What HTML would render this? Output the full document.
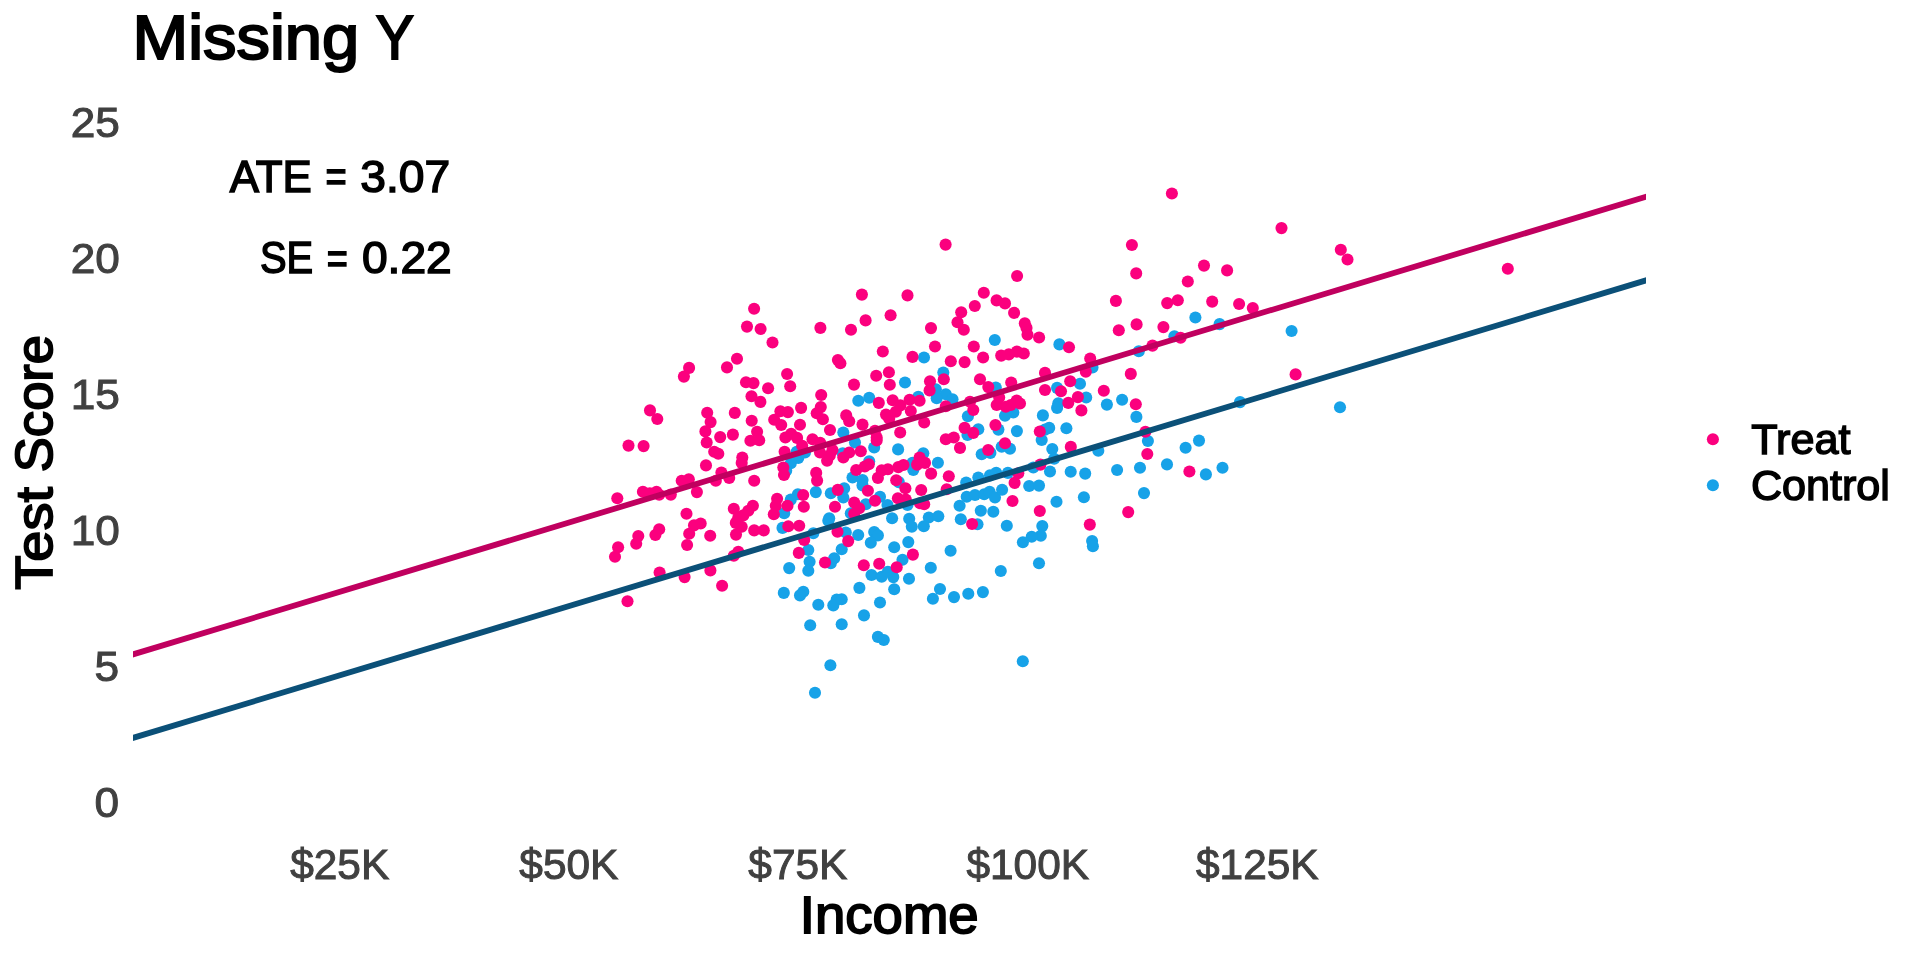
<!DOCTYPE html>
<html><head><meta charset="utf-8"><title>Missing Y</title>
<style>
html,body{margin:0;padding:0;background:#fff;}
body{width:1920px;height:960px;overflow:hidden;position:relative;font-family:"Liberation Sans",sans-serif;}
svg{position:absolute;left:0;top:0;will-change:transform;}
text{font-family:"Liberation Sans",sans-serif;}
</style></head><body>
<svg width="1920" height="960" viewBox="0 0 1920 960">
<rect width="1920" height="960" fill="#fff"/>
<g fill="#17a2e8">
<circle cx="796.7" cy="451.7" r="6.05"/>
<circle cx="805.0" cy="452.5" r="6.05"/>
<circle cx="798.3" cy="457.9" r="6.05"/>
<circle cx="790.8" cy="463.3" r="6.05"/>
<circle cx="786.2" cy="470.8" r="6.05"/>
<circle cx="815.8" cy="492.1" r="6.05"/>
<circle cx="830.8" cy="493.3" r="6.05"/>
<circle cx="797.9" cy="494.2" r="6.05"/>
<circle cx="790.8" cy="499.6" r="6.05"/>
<circle cx="784.2" cy="513.3" r="6.05"/>
<circle cx="829.2" cy="518.3" r="6.05"/>
<circle cx="782.5" cy="527.9" r="6.05"/>
<circle cx="813.3" cy="533.3" r="6.05"/>
<circle cx="828.3" cy="520.8" r="6.05"/>
<circle cx="808.3" cy="550.0" r="6.05"/>
<circle cx="809.6" cy="561.7" r="6.05"/>
<circle cx="808.3" cy="570.8" r="6.05"/>
<circle cx="789.2" cy="568.1" r="6.05"/>
<circle cx="830.8" cy="563.3" r="6.05"/>
<circle cx="834.2" cy="558.3" r="6.05"/>
<circle cx="783.8" cy="592.9" r="6.05"/>
<circle cx="803.3" cy="591.7" r="6.05"/>
<circle cx="800.0" cy="595.4" r="6.05"/>
<circle cx="836.7" cy="599.6" r="6.05"/>
<circle cx="818.3" cy="604.8" r="6.05"/>
<circle cx="833.3" cy="605.4" r="6.05"/>
<circle cx="810.2" cy="625.2" r="6.05"/>
<circle cx="830.4" cy="665.2" r="6.05"/>
<circle cx="905.0" cy="382.5" r="6.05"/>
<circle cx="943.3" cy="372.5" r="6.05"/>
<circle cx="935.8" cy="389.2" r="6.05"/>
<circle cx="945.8" cy="394.2" r="6.05"/>
<circle cx="936.7" cy="398.3" r="6.05"/>
<circle cx="952.5" cy="399.2" r="6.05"/>
<circle cx="995.8" cy="387.5" r="6.05"/>
<circle cx="858.3" cy="400.8" r="6.05"/>
<circle cx="869.2" cy="397.7" r="6.05"/>
<circle cx="918.3" cy="396.7" r="6.05"/>
<circle cx="967.9" cy="416.2" r="6.05"/>
<circle cx="843.3" cy="432.5" r="6.05"/>
<circle cx="978.3" cy="429.2" r="6.05"/>
<circle cx="967.5" cy="435.0" r="6.05"/>
<circle cx="998.4" cy="429.6" r="6.05"/>
<circle cx="855.0" cy="442.5" r="6.05"/>
<circle cx="874.2" cy="447.5" r="6.05"/>
<circle cx="898.1" cy="449.4" r="6.05"/>
<circle cx="869.2" cy="461.2" r="6.05"/>
<circle cx="852.5" cy="477.5" r="6.05"/>
<circle cx="862.5" cy="480.0" r="6.05"/>
<circle cx="862.5" cy="485.4" r="6.05"/>
<circle cx="898.8" cy="482.1" r="6.05"/>
<circle cx="913.3" cy="470.0" r="6.05"/>
<circle cx="912.5" cy="462.9" r="6.05"/>
<circle cx="923.3" cy="453.3" r="6.05"/>
<circle cx="937.9" cy="462.7" r="6.05"/>
<circle cx="981.7" cy="454.2" r="6.05"/>
<circle cx="990.4" cy="452.9" r="6.05"/>
<circle cx="966.2" cy="482.5" r="6.05"/>
<circle cx="978.3" cy="477.5" r="6.05"/>
<circle cx="990.0" cy="475.4" r="6.05"/>
<circle cx="996.2" cy="472.9" r="6.05"/>
<circle cx="966.7" cy="496.7" r="6.05"/>
<circle cx="975.0" cy="495.0" r="6.05"/>
<circle cx="984.2" cy="494.2" r="6.05"/>
<circle cx="989.6" cy="491.7" r="6.05"/>
<circle cx="995.0" cy="497.5" r="6.05"/>
<circle cx="959.6" cy="505.8" r="6.05"/>
<circle cx="980.8" cy="510.8" r="6.05"/>
<circle cx="993.3" cy="511.7" r="6.05"/>
<circle cx="960.8" cy="519.2" r="6.05"/>
<circle cx="928.8" cy="517.5" r="6.05"/>
<circle cx="938.3" cy="516.2" r="6.05"/>
<circle cx="909.2" cy="518.8" r="6.05"/>
<circle cx="892.1" cy="518.3" r="6.05"/>
<circle cx="844.2" cy="488.3" r="6.05"/>
<circle cx="843.3" cy="497.5" r="6.05"/>
<circle cx="880.0" cy="496.7" r="6.05"/>
<circle cx="865.8" cy="504.2" r="6.05"/>
<circle cx="887.5" cy="505.0" r="6.05"/>
<circle cx="850.8" cy="513.3" r="6.05"/>
<circle cx="907.5" cy="505.0" r="6.05"/>
<circle cx="911.8" cy="526.7" r="6.05"/>
<circle cx="923.8" cy="526.2" r="6.05"/>
<circle cx="977.5" cy="524.2" r="6.05"/>
<circle cx="845.8" cy="532.5" r="6.05"/>
<circle cx="841.7" cy="549.2" r="6.05"/>
<circle cx="858.2" cy="535.0" r="6.05"/>
<circle cx="874.2" cy="532.1" r="6.05"/>
<circle cx="877.9" cy="535.4" r="6.05"/>
<circle cx="870.8" cy="542.7" r="6.05"/>
<circle cx="894.2" cy="547.3" r="6.05"/>
<circle cx="908.3" cy="542.1" r="6.05"/>
<circle cx="902.5" cy="559.8" r="6.05"/>
<circle cx="871.5" cy="575.0" r="6.05"/>
<circle cx="881.7" cy="576.7" r="6.05"/>
<circle cx="893.3" cy="577.1" r="6.05"/>
<circle cx="887.9" cy="571.7" r="6.05"/>
<circle cx="909.0" cy="578.8" r="6.05"/>
<circle cx="930.8" cy="567.8" r="6.05"/>
<circle cx="950.6" cy="550.7" r="6.05"/>
<circle cx="859.4" cy="587.9" r="6.05"/>
<circle cx="894.2" cy="589.2" r="6.05"/>
<circle cx="940.0" cy="589.0" r="6.05"/>
<circle cx="932.9" cy="598.8" r="6.05"/>
<circle cx="954.0" cy="597.1" r="6.05"/>
<circle cx="968.3" cy="593.8" r="6.05"/>
<circle cx="982.9" cy="592.1" r="6.05"/>
<circle cx="841.7" cy="599.2" r="6.05"/>
<circle cx="880.0" cy="602.5" r="6.05"/>
<circle cx="864.0" cy="615.4" r="6.05"/>
<circle cx="841.7" cy="624.2" r="6.05"/>
<circle cx="877.9" cy="636.9" r="6.05"/>
<circle cx="883.8" cy="640.0" r="6.05"/>
<circle cx="1092.5" cy="367.5" r="6.05"/>
<circle cx="1080.0" cy="383.8" r="6.05"/>
<circle cx="1057.1" cy="387.9" r="6.05"/>
<circle cx="1086.2" cy="397.5" r="6.05"/>
<circle cx="1058.3" cy="403.3" r="6.05"/>
<circle cx="1057.1" cy="407.9" r="6.05"/>
<circle cx="1106.9" cy="404.6" r="6.05"/>
<circle cx="1122.1" cy="399.8" r="6.05"/>
<circle cx="1136.4" cy="416.9" r="6.05"/>
<circle cx="1013.3" cy="412.5" r="6.05"/>
<circle cx="1005.0" cy="415.8" r="6.05"/>
<circle cx="1042.9" cy="415.4" r="6.05"/>
<circle cx="1016.9" cy="431.1" r="6.05"/>
<circle cx="1049.2" cy="427.9" r="6.05"/>
<circle cx="1045.0" cy="429.6" r="6.05"/>
<circle cx="1066.4" cy="428.3" r="6.05"/>
<circle cx="1010.0" cy="448.8" r="6.05"/>
<circle cx="1001.7" cy="446.7" r="6.05"/>
<circle cx="1041.7" cy="440.0" r="6.05"/>
<circle cx="1052.3" cy="449.0" r="6.05"/>
<circle cx="1054.2" cy="458.8" r="6.05"/>
<circle cx="1098.3" cy="450.8" r="6.05"/>
<circle cx="1147.9" cy="441.0" r="6.05"/>
<circle cx="1140.0" cy="467.8" r="6.05"/>
<circle cx="1117.1" cy="470.0" r="6.05"/>
<circle cx="1085.2" cy="473.6" r="6.05"/>
<circle cx="1070.7" cy="471.7" r="6.05"/>
<circle cx="1050.0" cy="471.5" r="6.05"/>
<circle cx="1033.3" cy="467.5" r="6.05"/>
<circle cx="1007.9" cy="472.9" r="6.05"/>
<circle cx="1002.1" cy="489.8" r="6.05"/>
<circle cx="1029.2" cy="486.0" r="6.05"/>
<circle cx="1039.0" cy="485.6" r="6.05"/>
<circle cx="1056.5" cy="501.8" r="6.05"/>
<circle cx="1083.9" cy="497.3" r="6.05"/>
<circle cx="1144.0" cy="493.1" r="6.05"/>
<circle cx="1006.8" cy="525.7" r="6.05"/>
<circle cx="1042.3" cy="526.1" r="6.05"/>
<circle cx="1040.8" cy="535.8" r="6.05"/>
<circle cx="1031.7" cy="536.7" r="6.05"/>
<circle cx="1022.9" cy="542.3" r="6.05"/>
<circle cx="1092.1" cy="541.1" r="6.05"/>
<circle cx="1092.9" cy="546.2" r="6.05"/>
<circle cx="1039.0" cy="563.2" r="6.05"/>
<circle cx="1000.8" cy="571.0" r="6.05"/>
<circle cx="815.0" cy="692.8" r="6.05"/>
<circle cx="1022.8" cy="661.2" r="6.05"/>
<circle cx="994.8" cy="340.0" r="6.05"/>
<circle cx="1059.4" cy="344.4" r="6.05"/>
<circle cx="924.0" cy="357.5" r="6.05"/>
<circle cx="1195.4" cy="317.5" r="6.05"/>
<circle cx="1219.6" cy="324.1" r="6.05"/>
<circle cx="1291.6" cy="331.0" r="6.05"/>
<circle cx="1174.4" cy="336.2" r="6.05"/>
<circle cx="1138.8" cy="351.2" r="6.05"/>
<circle cx="1240.0" cy="402.1" r="6.05"/>
<circle cx="1340.0" cy="407.2" r="6.05"/>
<circle cx="1199.0" cy="440.6" r="6.05"/>
<circle cx="1185.6" cy="447.8" r="6.05"/>
<circle cx="1167.0" cy="464.4" r="6.05"/>
<circle cx="1205.9" cy="474.4" r="6.05"/>
<circle cx="1222.5" cy="467.8" r="6.05"/>
<circle cx="842.7" cy="453.2" r="6.05"/>
</g>
<g fill="#fb007e">
<circle cx="754.1" cy="308.8" r="6.05"/>
<circle cx="747.0" cy="326.6" r="6.05"/>
<circle cx="760.6" cy="329.0" r="6.05"/>
<circle cx="820.4" cy="327.9" r="6.05"/>
<circle cx="772.5" cy="342.5" r="6.05"/>
<circle cx="737.0" cy="358.8" r="6.05"/>
<circle cx="727.0" cy="367.4" r="6.05"/>
<circle cx="689.1" cy="367.9" r="6.05"/>
<circle cx="683.9" cy="376.6" r="6.05"/>
<circle cx="787.1" cy="374.0" r="6.05"/>
<circle cx="746.0" cy="382.2" r="6.05"/>
<circle cx="753.5" cy="383.1" r="6.05"/>
<circle cx="768.1" cy="388.2" r="6.05"/>
<circle cx="790.2" cy="386.2" r="6.05"/>
<circle cx="821.2" cy="395.0" r="6.05"/>
<circle cx="751.5" cy="396.2" r="6.05"/>
<circle cx="760.4" cy="401.9" r="6.05"/>
<circle cx="820.8" cy="407.1" r="6.05"/>
<circle cx="816.7" cy="413.3" r="6.05"/>
<circle cx="822.9" cy="419.3" r="6.05"/>
<circle cx="801.1" cy="407.9" r="6.05"/>
<circle cx="780.4" cy="411.2" r="6.05"/>
<circle cx="787.9" cy="412.1" r="6.05"/>
<circle cx="774.2" cy="419.8" r="6.05"/>
<circle cx="781.2" cy="425.0" r="6.05"/>
<circle cx="800.0" cy="424.8" r="6.05"/>
<circle cx="830.0" cy="430.0" r="6.05"/>
<circle cx="707.2" cy="412.8" r="6.05"/>
<circle cx="710.6" cy="422.1" r="6.05"/>
<circle cx="705.4" cy="431.4" r="6.05"/>
<circle cx="734.8" cy="412.9" r="6.05"/>
<circle cx="751.7" cy="420.8" r="6.05"/>
<circle cx="757.1" cy="431.7" r="6.05"/>
<circle cx="732.9" cy="434.6" r="6.05"/>
<circle cx="720.2" cy="437.1" r="6.05"/>
<circle cx="791.2" cy="433.8" r="6.05"/>
<circle cx="785.4" cy="437.5" r="6.05"/>
<circle cx="797.1" cy="437.9" r="6.05"/>
<circle cx="812.5" cy="439.2" r="6.05"/>
<circle cx="706.7" cy="442.5" r="6.05"/>
<circle cx="750.4" cy="440.7" r="6.05"/>
<circle cx="759.2" cy="440.2" r="6.05"/>
<circle cx="714.2" cy="451.7" r="6.05"/>
<circle cx="718.3" cy="453.8" r="6.05"/>
<circle cx="706.0" cy="465.4" r="6.05"/>
<circle cx="742.3" cy="457.5" r="6.05"/>
<circle cx="741.7" cy="462.9" r="6.05"/>
<circle cx="721.4" cy="472.5" r="6.05"/>
<circle cx="715.8" cy="480.8" r="6.05"/>
<circle cx="729.2" cy="477.9" r="6.05"/>
<circle cx="688.8" cy="479.2" r="6.05"/>
<circle cx="681.7" cy="480.8" r="6.05"/>
<circle cx="696.9" cy="492.1" r="6.05"/>
<circle cx="754.2" cy="480.8" r="6.05"/>
<circle cx="784.6" cy="451.7" r="6.05"/>
<circle cx="783.3" cy="467.5" r="6.05"/>
<circle cx="784.0" cy="475.0" r="6.05"/>
<circle cx="820.0" cy="452.5" r="6.05"/>
<circle cx="832.5" cy="450.0" r="6.05"/>
<circle cx="827.1" cy="460.8" r="6.05"/>
<circle cx="816.2" cy="472.9" r="6.05"/>
<circle cx="817.1" cy="480.6" r="6.05"/>
<circle cx="837.8" cy="489.9" r="6.05"/>
<circle cx="803.2" cy="495.0" r="6.05"/>
<circle cx="803.8" cy="506.7" r="6.05"/>
<circle cx="777.1" cy="498.8" r="6.05"/>
<circle cx="775.8" cy="505.8" r="6.05"/>
<circle cx="787.5" cy="505.8" r="6.05"/>
<circle cx="773.8" cy="514.2" r="6.05"/>
<circle cx="752.9" cy="505.8" r="6.05"/>
<circle cx="748.3" cy="510.8" r="6.05"/>
<circle cx="743.3" cy="515.4" r="6.05"/>
<circle cx="733.8" cy="508.8" r="6.05"/>
<circle cx="738.3" cy="517.5" r="6.05"/>
<circle cx="686.5" cy="513.8" r="6.05"/>
<circle cx="835.0" cy="506.7" r="6.05"/>
<circle cx="700.7" cy="523.5" r="6.05"/>
<circle cx="694.0" cy="525.4" r="6.05"/>
<circle cx="689.2" cy="533.8" r="6.05"/>
<circle cx="687.1" cy="545.0" r="6.05"/>
<circle cx="710.2" cy="535.8" r="6.05"/>
<circle cx="735.8" cy="522.9" r="6.05"/>
<circle cx="741.7" cy="526.8" r="6.05"/>
<circle cx="736.0" cy="534.6" r="6.05"/>
<circle cx="754.2" cy="530.4" r="6.05"/>
<circle cx="763.8" cy="530.4" r="6.05"/>
<circle cx="788.3" cy="526.2" r="6.05"/>
<circle cx="799.2" cy="525.8" r="6.05"/>
<circle cx="804.2" cy="540.0" r="6.05"/>
<circle cx="837.5" cy="531.7" r="6.05"/>
<circle cx="798.8" cy="552.9" r="6.05"/>
<circle cx="825.0" cy="562.5" r="6.05"/>
<circle cx="738.3" cy="551.7" r="6.05"/>
<circle cx="733.8" cy="555.8" r="6.05"/>
<circle cx="710.4" cy="570.4" r="6.05"/>
<circle cx="684.6" cy="577.1" r="6.05"/>
<circle cx="722.1" cy="585.7" r="6.05"/>
<circle cx="950.8" cy="361.2" r="6.05"/>
<circle cx="964.6" cy="362.1" r="6.05"/>
<circle cx="854.0" cy="384.6" r="6.05"/>
<circle cx="876.2" cy="375.8" r="6.05"/>
<circle cx="888.9" cy="372.2" r="6.05"/>
<circle cx="889.8" cy="384.8" r="6.05"/>
<circle cx="943.8" cy="379.3" r="6.05"/>
<circle cx="930.0" cy="381.2" r="6.05"/>
<circle cx="929.6" cy="390.4" r="6.05"/>
<circle cx="980.0" cy="379.3" r="6.05"/>
<circle cx="988.3" cy="387.1" r="6.05"/>
<circle cx="878.8" cy="402.9" r="6.05"/>
<circle cx="892.7" cy="400.2" r="6.05"/>
<circle cx="909.6" cy="399.8" r="6.05"/>
<circle cx="919.6" cy="400.8" r="6.05"/>
<circle cx="886.0" cy="414.6" r="6.05"/>
<circle cx="889.2" cy="418.8" r="6.05"/>
<circle cx="910.8" cy="411.0" r="6.05"/>
<circle cx="900.4" cy="405.4" r="6.05"/>
<circle cx="895.8" cy="411.7" r="6.05"/>
<circle cx="945.8" cy="406.2" r="6.05"/>
<circle cx="924.2" cy="422.5" r="6.05"/>
<circle cx="970.0" cy="401.7" r="6.05"/>
<circle cx="973.3" cy="410.0" r="6.05"/>
<circle cx="996.7" cy="405.0" r="6.05"/>
<circle cx="846.2" cy="415.4" r="6.05"/>
<circle cx="849.2" cy="421.2" r="6.05"/>
<circle cx="862.5" cy="424.6" r="6.05"/>
<circle cx="875.0" cy="430.8" r="6.05"/>
<circle cx="876.7" cy="437.5" r="6.05"/>
<circle cx="900.2" cy="432.5" r="6.05"/>
<circle cx="964.6" cy="427.9" r="6.05"/>
<circle cx="973.3" cy="432.9" r="6.05"/>
<circle cx="995.4" cy="425.0" r="6.05"/>
<circle cx="945.8" cy="439.2" r="6.05"/>
<circle cx="953.8" cy="437.5" r="6.05"/>
<circle cx="876.7" cy="440.4" r="6.05"/>
<circle cx="860.8" cy="451.2" r="6.05"/>
<circle cx="849.2" cy="452.5" r="6.05"/>
<circle cx="843.3" cy="457.5" r="6.05"/>
<circle cx="868.8" cy="464.3" r="6.05"/>
<circle cx="864.8" cy="466.5" r="6.05"/>
<circle cx="856.2" cy="470.0" r="6.05"/>
<circle cx="877.9" cy="477.9" r="6.05"/>
<circle cx="881.7" cy="470.4" r="6.05"/>
<circle cx="887.9" cy="469.2" r="6.05"/>
<circle cx="898.3" cy="467.1" r="6.05"/>
<circle cx="903.5" cy="465.0" r="6.05"/>
<circle cx="896.2" cy="480.2" r="6.05"/>
<circle cx="905.4" cy="488.2" r="6.05"/>
<circle cx="897.9" cy="498.3" r="6.05"/>
<circle cx="905.8" cy="499.6" r="6.05"/>
<circle cx="921.2" cy="490.0" r="6.05"/>
<circle cx="919.6" cy="457.5" r="6.05"/>
<circle cx="917.1" cy="464.6" r="6.05"/>
<circle cx="925.0" cy="462.9" r="6.05"/>
<circle cx="931.1" cy="473.6" r="6.05"/>
<circle cx="948.8" cy="476.2" r="6.05"/>
<circle cx="946.7" cy="489.2" r="6.05"/>
<circle cx="960.0" cy="447.9" r="6.05"/>
<circle cx="988.2" cy="450.0" r="6.05"/>
<circle cx="920.0" cy="503.3" r="6.05"/>
<circle cx="924.2" cy="504.2" r="6.05"/>
<circle cx="867.9" cy="490.8" r="6.05"/>
<circle cx="875.0" cy="500.8" r="6.05"/>
<circle cx="854.2" cy="502.5" r="6.05"/>
<circle cx="859.2" cy="508.3" r="6.05"/>
<circle cx="854.2" cy="513.8" r="6.05"/>
<circle cx="972.1" cy="524.0" r="6.05"/>
<circle cx="848.2" cy="541.1" r="6.05"/>
<circle cx="912.9" cy="554.6" r="6.05"/>
<circle cx="863.8" cy="565.2" r="6.05"/>
<circle cx="879.2" cy="563.8" r="6.05"/>
<circle cx="896.7" cy="567.3" r="6.05"/>
<circle cx="1045.0" cy="372.9" r="6.05"/>
<circle cx="1011.2" cy="382.5" r="6.05"/>
<circle cx="1085.8" cy="371.7" r="6.05"/>
<circle cx="1130.8" cy="373.9" r="6.05"/>
<circle cx="1070.2" cy="381.2" r="6.05"/>
<circle cx="1045.0" cy="390.0" r="6.05"/>
<circle cx="1061.0" cy="391.2" r="6.05"/>
<circle cx="1103.8" cy="390.7" r="6.05"/>
<circle cx="1077.9" cy="397.1" r="6.05"/>
<circle cx="1068.3" cy="402.9" r="6.05"/>
<circle cx="1081.4" cy="410.4" r="6.05"/>
<circle cx="1135.8" cy="404.2" r="6.05"/>
<circle cx="999.2" cy="397.5" r="6.05"/>
<circle cx="1016.7" cy="400.6" r="6.05"/>
<circle cx="1020.0" cy="403.5" r="6.05"/>
<circle cx="1005.8" cy="406.7" r="6.05"/>
<circle cx="1010.8" cy="405.0" r="6.05"/>
<circle cx="1039.8" cy="431.5" r="6.05"/>
<circle cx="1145.4" cy="431.7" r="6.05"/>
<circle cx="1005.0" cy="443.3" r="6.05"/>
<circle cx="1070.8" cy="446.9" r="6.05"/>
<circle cx="1147.3" cy="454.0" r="6.05"/>
<circle cx="1040.4" cy="464.6" r="6.05"/>
<circle cx="1018.3" cy="473.3" r="6.05"/>
<circle cx="1014.6" cy="482.9" r="6.05"/>
<circle cx="1012.5" cy="501.0" r="6.05"/>
<circle cx="1039.8" cy="511.0" r="6.05"/>
<circle cx="1128.2" cy="512.1" r="6.05"/>
<circle cx="1089.8" cy="524.6" r="6.05"/>
<circle cx="650.0" cy="410.4" r="6.05"/>
<circle cx="657.3" cy="419.0" r="6.05"/>
<circle cx="628.5" cy="445.6" r="6.05"/>
<circle cx="643.6" cy="446.1" r="6.05"/>
<circle cx="617.3" cy="498.3" r="6.05"/>
<circle cx="642.9" cy="491.8" r="6.05"/>
<circle cx="649.8" cy="493.3" r="6.05"/>
<circle cx="656.5" cy="491.8" r="6.05"/>
<circle cx="659.2" cy="494.8" r="6.05"/>
<circle cx="670.8" cy="494.6" r="6.05"/>
<circle cx="659.2" cy="529.2" r="6.05"/>
<circle cx="655.4" cy="535.0" r="6.05"/>
<circle cx="638.3" cy="536.0" r="6.05"/>
<circle cx="636.2" cy="543.8" r="6.05"/>
<circle cx="618.1" cy="547.3" r="6.05"/>
<circle cx="615.0" cy="556.7" r="6.05"/>
<circle cx="659.6" cy="572.5" r="6.05"/>
<circle cx="627.5" cy="601.2" r="6.05"/>
<circle cx="945.6" cy="244.6" r="6.05"/>
<circle cx="1017.1" cy="276.0" r="6.05"/>
<circle cx="861.9" cy="294.6" r="6.05"/>
<circle cx="907.5" cy="295.4" r="6.05"/>
<circle cx="983.8" cy="292.8" r="6.05"/>
<circle cx="996.6" cy="300.4" r="6.05"/>
<circle cx="1005.0" cy="303.4" r="6.05"/>
<circle cx="974.8" cy="306.0" r="6.05"/>
<circle cx="961.2" cy="312.2" r="6.05"/>
<circle cx="957.5" cy="322.2" r="6.05"/>
<circle cx="963.8" cy="329.8" r="6.05"/>
<circle cx="1014.1" cy="312.9" r="6.05"/>
<circle cx="1024.8" cy="323.4" r="6.05"/>
<circle cx="1026.5" cy="327.9" r="6.05"/>
<circle cx="1027.5" cy="334.8" r="6.05"/>
<circle cx="1039.1" cy="337.5" r="6.05"/>
<circle cx="1069.0" cy="347.2" r="6.05"/>
<circle cx="890.6" cy="315.2" r="6.05"/>
<circle cx="865.6" cy="320.4" r="6.05"/>
<circle cx="851.0" cy="329.8" r="6.05"/>
<circle cx="931.0" cy="328.1" r="6.05"/>
<circle cx="935.0" cy="346.5" r="6.05"/>
<circle cx="882.8" cy="351.5" r="6.05"/>
<circle cx="973.8" cy="346.5" r="6.05"/>
<circle cx="912.5" cy="356.9" r="6.05"/>
<circle cx="983.1" cy="357.5" r="6.05"/>
<circle cx="1001.2" cy="355.6" r="6.05"/>
<circle cx="1008.8" cy="354.4" r="6.05"/>
<circle cx="1016.9" cy="351.6" r="6.05"/>
<circle cx="1023.8" cy="353.5" r="6.05"/>
<circle cx="837.9" cy="360.0" r="6.05"/>
<circle cx="840.4" cy="363.3" r="6.05"/>
<circle cx="1171.9" cy="193.5" r="6.05"/>
<circle cx="1281.5" cy="228.1" r="6.05"/>
<circle cx="1131.9" cy="245.0" r="6.05"/>
<circle cx="1136.2" cy="273.4" r="6.05"/>
<circle cx="1204.0" cy="265.6" r="6.05"/>
<circle cx="1227.1" cy="270.4" r="6.05"/>
<circle cx="1187.8" cy="281.5" r="6.05"/>
<circle cx="1115.9" cy="300.9" r="6.05"/>
<circle cx="1167.2" cy="303.1" r="6.05"/>
<circle cx="1177.8" cy="300.2" r="6.05"/>
<circle cx="1212.2" cy="301.6" r="6.05"/>
<circle cx="1239.1" cy="304.0" r="6.05"/>
<circle cx="1252.8" cy="308.1" r="6.05"/>
<circle cx="1136.6" cy="324.4" r="6.05"/>
<circle cx="1118.8" cy="330.2" r="6.05"/>
<circle cx="1163.4" cy="327.1" r="6.05"/>
<circle cx="1180.6" cy="337.8" r="6.05"/>
<circle cx="1152.5" cy="345.6" r="6.05"/>
<circle cx="1090.2" cy="358.5" r="6.05"/>
<circle cx="1295.6" cy="374.4" r="6.05"/>
<circle cx="1189.4" cy="471.5" r="6.05"/>
<circle cx="1340.8" cy="249.7" r="6.05"/>
<circle cx="1347.5" cy="259.5" r="6.05"/>
<circle cx="1507.8" cy="268.7" r="6.05"/>
<circle cx="802.2" cy="445.7" r="6.05"/>
<circle cx="820.2" cy="442.8" r="6.05"/>
<circle cx="829.8" cy="455.4" r="6.05"/>
</g>
<clipPath id="pc"><rect x="133" y="100" width="1513" height="720"/></clipPath>
<g clip-path="url(#pc)" stroke-width="5.8">
<line x1="113" y1="660.45" x2="1666" y2="190.65" stroke="#c0005f"/>
<line x1="113" y1="743.95" x2="1666" y2="274.35" stroke="#0b5078"/>
</g>
<text transform="translate(132.42,58.95) scale(1.0688,1)" font-size="62.6" fill="#000" stroke="#000" stroke-width="2.1">Missing</text>
<text transform="translate(375.80,58.95) scale(0.9143,1)" font-size="62.6" fill="#000" stroke="#000" stroke-width="2.1">Y</text>
<text transform="translate(229.69,192.25) scale(0.9892,1)" font-size="44.4" fill="#000" stroke="#000" stroke-width="1.5">ATE</text>
<text transform="translate(325.38,192.25) scale(0.8167,1)" font-size="44.4" fill="#000" stroke="#000" stroke-width="1.5">=</text>
<text transform="translate(360.26,192.25) scale(1.0405,1)" font-size="44.4" fill="#000" stroke="#000" stroke-width="1.5">3.07</text>
<text transform="translate(259.90,273.45) scale(0.8982,1)" font-size="44.4" fill="#000" stroke="#000" stroke-width="1.5">SE</text>
<text transform="translate(326.69,273.45) scale(0.8125,1)" font-size="44.4" fill="#000" stroke="#000" stroke-width="1.5">=</text>
<text transform="translate(361.96,273.45) scale(1.0393,1)" font-size="44.4" fill="#000" stroke="#000" stroke-width="1.5">0.22</text>
<text transform="translate(799.84,933.11) scale(1.0389,1)" font-size="52.5" fill="#000" stroke="#000" stroke-width="1.78">Income</text>
<text transform="translate(51.61,589.70) rotate(-90) scale(1.0670,1)" font-size="52.5" fill="#000" stroke="#000" stroke-width="1.78">Test</text>
<text transform="translate(51.61,472.20) rotate(-90) scale(1.0015,1)" font-size="52.5" fill="#000" stroke="#000" stroke-width="1.78">Score</text>
<text transform="translate(1751.30,453.79) scale(1.0258,1)" font-size="42.1" fill="#000" stroke="#000" stroke-width="1.43">Treat</text>
<text transform="translate(1750.88,499.79) scale(1.0248,1)" font-size="42.1" fill="#000" stroke="#000" stroke-width="1.43">Control</text>
<text transform="translate(70.68,137.20) scale(1.0352,1)" font-size="42.7" fill="#404040" stroke="#404040" stroke-width="1.0">25</text>
<text transform="translate(70.68,273.20) scale(1.0352,1)" font-size="42.7" fill="#404040" stroke="#404040" stroke-width="1.0">20</text>
<text transform="translate(70.68,409.20) scale(1.0352,1)" font-size="42.7" fill="#404040" stroke="#404040" stroke-width="1.0">15</text>
<text transform="translate(70.68,545.20) scale(1.0352,1)" font-size="42.7" fill="#404040" stroke="#404040" stroke-width="1.0">10</text>
<text transform="translate(94.49,681.20) scale(1.0352,1)" font-size="42.7" fill="#404040" stroke="#404040" stroke-width="1.0">5</text>
<text transform="translate(94.49,817.20) scale(1.0352,1)" font-size="42.7" fill="#404040" stroke="#404040" stroke-width="1.0">0</text>
<text transform="translate(290.13,879.25) scale(0.9935,1)" font-size="42.7" fill="#404040" stroke="#404040" stroke-width="1.0">$25K</text>
<text transform="translate(519.33,879.25) scale(0.9935,1)" font-size="42.7" fill="#404040" stroke="#404040" stroke-width="1.0">$50K</text>
<text transform="translate(748.33,879.25) scale(0.9935,1)" font-size="42.7" fill="#404040" stroke="#404040" stroke-width="1.0">$75K</text>
<text transform="translate(966.40,879.25) scale(0.9935,1)" font-size="42.7" fill="#404040" stroke="#404040" stroke-width="1.0">$100K</text>
<text transform="translate(1196.00,879.25) scale(0.9935,1)" font-size="42.7" fill="#404040" stroke="#404040" stroke-width="1.0">$125K</text>
<circle cx="1712.9" cy="439.2" r="6.05" fill="#fb007e"/>
<circle cx="1712.9" cy="485.3" r="6.05" fill="#17a2e8"/>
</svg>
</body></html>
